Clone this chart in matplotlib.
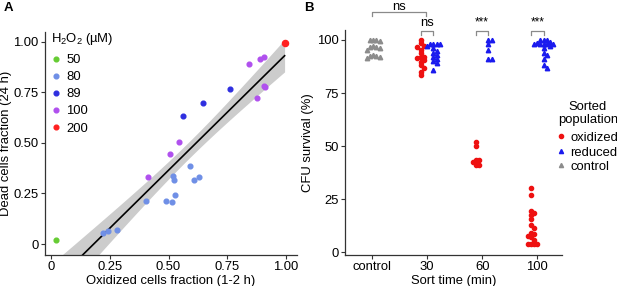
import numpy as np
import matplotlib
matplotlib.use("Agg")
import matplotlib.pyplot as plt
from matplotlib.lines import Line2D

plt.rcParams['font.family'] = ['Liberation Sans', 'DejaVu Sans']
plt.rcParams['mathtext.fontset'] = 'custom'
plt.rcParams['mathtext.rm'] = 'Liberation Sans'
plt.rcParams['mathtext.it'] = 'Liberation Sans:italic'

# ---------------- Panel A data ----------------
conc_labels = ["50", "80", "89", "100", "200"]
conc_colors = ["#66cc33", "#6f8fe6", "#2f2fe0", "#b050ee", "#ff2020"]
ox_50 = [0.021]
dead_50 = [0.02]
ox_80 = [0.218, 0.241, 0.278, 0.404, 0.489, 0.514, 0.518, 0.524, 0.526, 0.592, 0.608, 0.632]
dead_80 = [0.056, 0.065, 0.069, 0.214, 0.214, 0.208, 0.334, 0.316, 0.244, 0.386, 0.316, 0.333]
ox_89 = [0.561, 0.646, 0.763]
dead_89 = [0.633, 0.695, 0.766]
ox_100 = [0.414, 0.505, 0.546, 0.842, 0.879, 0.889, 0.910, 0.910, 0.913]
dead_100 = [0.333, 0.445, 0.504, 0.891, 0.723, 0.916, 0.923, 0.781, 0.778]
ox_200 = [0.996]
dead_200 = [0.992]

a_xticks = [0, 0.25, 0.5, 0.75, 1.0]
a_xticklabels = ["0", "0.25", "0.50", "0.75", "1.00"]
a_yticks = [0, 0.25, 0.5, 0.75, 1.0]
a_yticklabels = ["0", "0.25", "0.50", "0.75", "1.00"]

# ---------------- Panel B data ----------------
b_categories = ["control", "30", "60", "100"]
control_vals = [100, 100, 100, 99.5, 97, 96.5, 96.5, 96, 95.5, 93, 92.5, 92.5, 92, 91.5]
oxidized_30 = [100, 98.4, 97, 96.9, 95.3, 93.7, 92.2, 92, 91.4, 90.6, 89.8, 88.2, 86.7, 85.1, 83.5]
reduced_30 = [98.2, 98.2, 98.2, 98.2, 97, 96, 95, 94, 93, 92, 91, 90, 89, 86]
oxidized_60 = [52, 50, 43.5, 43.5, 42.5, 41, 41]
reduced_60 = [100, 100, 98, 95.5, 91, 91]
oxidized_100 = [30.5, 27, 19.5, 18.5, 17.5, 15.5, 13, 11.5, 9, 8.5, 7.5, 7, 6, 4, 4, 4, 4]
reduced_100 = [100, 100, 100, 99, 98.5, 98, 98, 98, 98, 98, 97, 96, 94, 93, 91, 88, 87]
b_yticks = [0, 25, 50, 75, 100]
pop_labels = ["oxidized", "reduced", "control"]
pop_colors = ["#ee1111", "#1a1aee", "#8c8c8c"]
pop_markers = ["o", "^", "^"]

W, H = 617, 286
fig = plt.figure(figsize=(W / 100, H / 100), dpi=100)

def fx(px):
    return px / W

def fy(py):
    return 1 - py / H

spine_col = "#333333"
FS = 9.4

def style_ax(ax):
    for s in ["top", "right"]:
        ax.spines[s].set_visible(False)
    for s in ["left", "bottom"]:
        ax.spines[s].set_color(spine_col)
        ax.spines[s].set_linewidth(0.9)
    ax.tick_params(axis="both", length=3, width=0.8, color=spine_col,
                   labelsize=FS, labelcolor="black", pad=1.5)

# ---------------- Panel A ----------------
A_L, A_R, A_T, A_B = 44.7, 297, 32, 255
ax1 = fig.add_axes([fx(A_L), fy(A_B), fx(A_R) - fx(A_L), fy(A_T) - fy(A_B)])
style_ax(ax1)

all_x = np.array(ox_50 + ox_80 + ox_89 + ox_100 + ox_200)
all_y = np.array(dead_50 + dead_80 + dead_89 + dead_100 + dead_200)
n = len(all_x)
slope, icpt = np.polyfit(all_x, all_y, 1)
xs = np.linspace(all_x.min(), all_x.max(), 80)
fit = icpt + slope * xs
resid = all_y - (icpt + slope * all_x)
s_err = np.sqrt(np.sum(resid ** 2) / (n - 2))
sxx = np.sum((all_x - all_x.mean()) ** 2)
se = s_err * np.sqrt(1 / n + (xs - all_x.mean()) ** 2 / sxx)
tval = 1.75
ax1.fill_between(xs, fit - tval * se, fit + tval * se, color="#cccccc", lw=0, zorder=1)
ax1.plot(xs, fit, color="black", lw=1.2, zorder=2)

groups_x = [ox_50, ox_80, ox_89, ox_100, ox_200]
groups_y = [dead_50, dead_80, dead_89, dead_100, dead_200]
sizes = [3.4, 3.4, 3.4, 3.4, 4.4]
for gx, gy, c, ms in zip(groups_x, groups_y, conc_colors, sizes):
    ax1.plot(gx, gy, ls="none", marker="o", ms=ms, mfc=c, mec=c, zorder=3)

ax1.set_xlim(-0.029, 1.049)
ax1.set_ylim(-0.054, 1.048)
ax1.set_xticks(a_xticks)
ax1.set_xticklabels(a_xticklabels)
ax1.set_yticks(a_yticks)
ax1.set_yticklabels(a_yticklabels)
ax1.set_xlabel("Oxidized cells fraction (1-2 h)", fontsize=FS, labelpad=1)
ax1.set_ylabel("Dead cells fraction (24 h)", fontsize=FS)
ax1.yaxis.set_label_coords((12.5 - A_L) / (A_R - A_L), 0.5)

handles_a = [Line2D([], [], ls="none", marker="o", ms=3.4, mfc=c, mec=c) for c in conc_colors]
leg1 = ax1.legend(handles_a, conc_labels, title="H$_2$O$_2$ (µM)", loc="upper left",
                  bbox_to_anchor=(-0.012, 1.045), frameon=False, fontsize=FS,
                  title_fontsize=FS, handlelength=0.8, handletextpad=0.4,
                  labelspacing=0.38, borderpad=0.2)
leg1._legend_box.align = "left"
leg1._legend_box.sep = 5

# ---------------- Panel B ----------------
B_L, B_R, B_T, B_B = 345, 562, 30, 255
ax2 = fig.add_axes([fx(B_L), fy(B_B), fx(B_R) - fx(B_L), fy(B_T) - fy(B_B)])
style_ax(ax2)
ax2.set_xlim(0.51, 4.45)
ax2.set_ylim(-1.3, 104.7)

PX_X = 55.0     # pixels per category unit
PX_Y = 2.123    # pixels per % unit

def swarm(vals, center, diam=3.6):
    order = np.argsort(vals)[::-1]
    placed = []
    xs_out = np.zeros(len(vals))
    for i in order:
        yp = vals[i] * PX_Y
        k = 0
        while True:
            cand = [0.0] if k == 0 else [k * diam * 0.9, -k * diam * 0.9]
            ok = None
            for c in cand:
                if all((c - px) ** 2 + (yp - py) ** 2 >= diam ** 2 * 0.8 for px, py in placed):
                    ok = c
                    break
            if ok is not None:
                placed.append((ok, yp))
                xs_out[i] = center + ok / PX_X
                break
            k += 1
    return xs_out

dodge = 0.115
series = [
    (control_vals, 1.0 + 0.02, 2),
    (oxidized_30, 2.0 - dodge, 0), (reduced_30, 2.0 + dodge, 1),
    (oxidized_60, 3.0 - dodge, 0), (reduced_60, 3.0 + dodge, 1),
    (oxidized_100, 4.0 - dodge, 0), (reduced_100, 4.0 + dodge, 1),
]
for vals, cx, gi in series:
    v = np.array(vals, dtype=float)
    xv = swarm(v, cx)
    ms = 3.0 if pop_markers[gi] == "o" else 3.2
    ax2.plot(xv, v, ls="none", marker=pop_markers[gi], ms=ms,
             mfc=pop_colors[gi], mec=pop_colors[gi], zorder=3)

ax2.set_xticks([1, 2, 3, 4])
ax2.set_xticklabels(b_categories)
ax2.set_yticks(b_yticks)
ax2.set_xlabel("Sort time (min)", fontsize=FS, labelpad=1)
ax2.set_ylabel("CFU survival (%)", fontsize=FS)
ax2.yaxis.set_label_coords((313.5 - B_L) / (B_R - B_L), 0.5)

# significance brackets
br_col = "#8a8a8a"
def bracket(x0, x1, ytop, ylow, label, tsize, ty):
    ax2.plot([x0, x0, x1, x1], [ylow, ytop, ytop, ylow], color=br_col, lw=0.9,
             clip_on=False, zorder=4)
    ax2.text((x0 + x1) / 2, ty, label, ha="center", va="baseline", fontsize=tsize,
             clip_on=False)

bracket(1.0, 1.98, 113.0, 111.3, "ns", FS, 114.0)
bracket(2.0 - dodge, 2.0 + dodge, 104.2, 102.5, "ns", FS, 106.4)
bracket(3.0 - dodge, 3.0 + dodge, 104.2, 102.5, "***", 8.5, 107.0)
bracket(4.0 - dodge, 4.0 + dodge, 104.2, 102.5, "***", 8.5, 107.0)

handles_b = [Line2D([], [], ls="none", marker=m, ms=3.0, mfc=c, mec=c)
             for m, c in zip(pop_markers, pop_colors)]
leg2 = fig.legend(handles_b, pop_labels, title="Sorted\npopulation",
                  loc="upper left", bbox_to_anchor=(fx(551), fy(94)),
                  frameon=False, fontsize=FS, title_fontsize=FS,
                  handlelength=0.6, handletextpad=0.4, labelspacing=0.18,
                  borderpad=0.0)
leg2.get_title().set_ha("center")
leg2._legend_box.sep = 4

# panel letters
fig.text(fx(4), fy(8), "A", fontsize=9.5, fontweight="bold", va="center", ha="left")
fig.text(fx(304), fy(8), "B", fontsize=9.5, fontweight="bold", va="center", ha="left")

fig.savefig("out.png", dpi=100)
